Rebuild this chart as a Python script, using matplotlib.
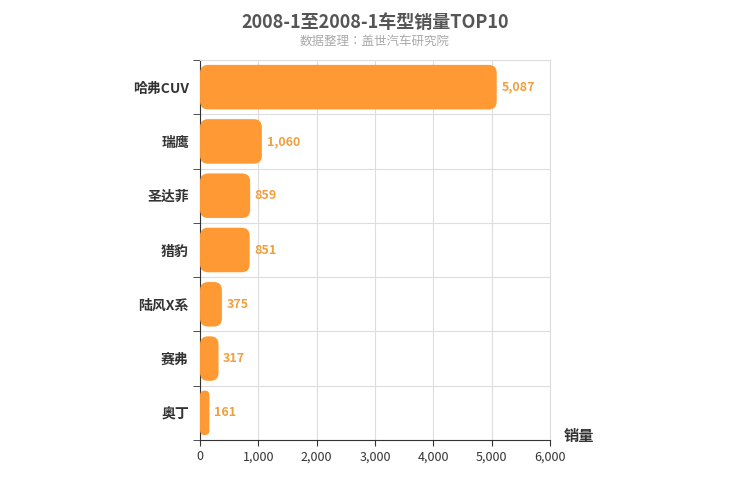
import matplotlib.pyplot as plt
from matplotlib.patches import FancyBboxPatch
from matplotlib import font_manager

cands = [f.name for f in font_manager.fontManager.ttflist if 'CJK' in f.name]
plt.rcParams['font.family'] = 'sans-serif'
plt.rcParams['font.sans-serif'] = ['Noto Sans CJK SC', 'Noto Sans CJK JP'] + cands + ['DejaVu Sans']

models = ['哈弗CUV', '瑞鹰', '圣达菲', '猎豹', '陆风X系', '赛弗', '奥丁']
sales = [5087, 1060, 859, 851, 375, 317, 161]
xticks = [0, 1000, 2000, 3000, 4000, 5000, 6000]

fig = plt.figure(figsize=(7.5, 5), dpi=100)
ax = fig.add_axes([0.2667, 0.12, 0.4666, 0.76])

n = len(models)
ax.set_xlim(0, 6000)
ax.set_ylim(n, 0)
bar_h = 0.82
# rounding in data units; compensate axis aspect
xu = 6000 / 350
yu = n / 380
for i, v in enumerate(sales):
    r = min(8 * xu, v / 2)
    p = FancyBboxPatch((0, i + (1 - bar_h) / 2), v, bar_h,
                       boxstyle=f"round,pad=0,rounding_size={r}",
                       mutation_aspect=yu / xu,
                       fc='#ff9933', ec='none', zorder=3)
    ax.add_patch(p)
    ax.text(v + 80, i + 0.5, f'{v:,}', va='center', ha='left',
            color='#f0a040', fontsize=9, fontweight='bold', zorder=4)

ax.set_yticks([i + 0.5 for i in range(n)])
ax.set_yticklabels(models, fontsize=10, fontweight='bold', color='#333333')
ax.set_yticks(range(n + 1), minor=True)
ax.set_xticks(xticks)
ax.set_xticklabels([f'{t:,}' for t in xticks], fontsize=9, color='#333333')
ax.grid(True, which='minor', axis='y', color='#dddddd', lw=0.8, zorder=0)
ax.grid(True, which='major', axis='x', color='#dddddd', lw=0.8, zorder=0)
ax.tick_params(axis='y', which='major', length=0, pad=8)
ax.tick_params(axis='y', which='minor', length=5, color='#333333')
ax.tick_params(axis='x', length=4, color='#333333')
for s in ['top', 'right']:
    ax.spines[s].set_color('#dddddd')
ax.spines['left'].set_color('#333333')
ax.spines['bottom'].set_color('#333333')

ax.text(1.04, -0.01, '销量', transform=ax.transAxes, fontsize=11,
        fontweight='bold', color='#333333', ha='left', va='bottom')
fig.text(0.5, 0.955, '2008-1至2008-1车型销量TOP10', ha='center', va='center',
         fontsize=13, fontweight='bold', color='#555555')
fig.text(0.5, 0.918, '数据整理：盖世汽车研究院', ha='center', va='center',
         fontsize=9, color='#aaaaaa')

fig.savefig('out.png', dpi=100)
